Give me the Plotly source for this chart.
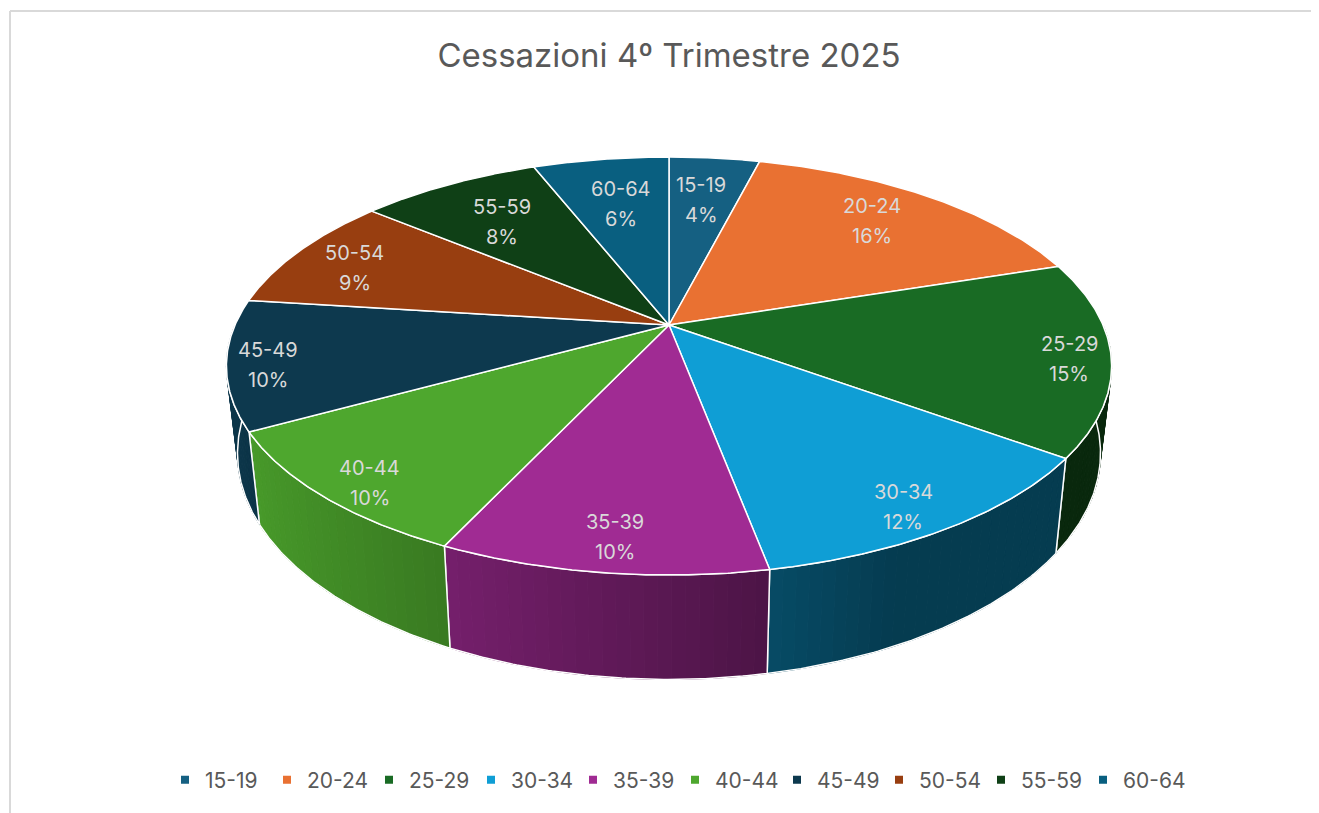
import numpy as np
import plotly.graph_objects as go

# ---------------- data ----------------
categories = ["15-19", "20-24", "25-29", "30-34", "35-39",
              "40-44", "45-49", "50-54", "55-59", "60-64"]
values = [4, 16, 15, 12, 10, 10, 10, 9, 8, 6]
colors = ["#156082", "#E97132", "#196B24", "#0F9ED5", "#A02B93",
          "#4EA72E", "#0D394E", "#983E10", "#0F4016", "#095F80"]
title_text = "Cessazioni 4º Trimestre 2025"

# ---------------- page / geometry ----------------
PAGE_W, PAGE_H = 1319, 813
OFF = 8                               # default body margin of the html page
W, H = PAGE_W - OFF, PAGE_H - OFF
PX = 434.0                            # pixels per unit radius
CX, CY = 669.0 - OFF, 325.0 - OFF     # apex of pie (figure pixels)
K = 0.196                             # perspective strength
BY = 0.4631                           # vertical squash of the top face
TH = 0.1935                           # thickness of the pie
XS = 0.975                            # horizontal shrink of the bottom face

FONT = "Inter, Open Sans, sans-serif"


def top_pt(theta_deg, r=1.0):
    t = np.radians(theta_deg)
    s = 1.0 / (1.0 + K * r * np.cos(t))
    return r * np.sin(t) * s, BY * r * np.cos(t) * s


def bot_pt(theta_deg):
    x, y = top_pt(theta_deg)
    t = np.radians(theta_deg)
    s = 1.0 / (1.0 + K * np.cos(t))
    return XS * x, y - TH * s


def shade(hex_color, f):
    h = hex_color.lstrip("#")
    r, g, b = (int(h[i:i + 2], 16) for i in (0, 2, 4))
    return "rgb(%d,%d,%d)" % (min(255, r * f), min(255, g * f), min(255, b * f))


def wall_factor(theta_deg):
    return float(np.clip(0.557 - 0.414 * np.sin(np.radians(theta_deg)), 0.38, 0.95))


total = float(sum(values))
bounds = np.concatenate([[0.0], np.cumsum(values) / total * 360.0])

fig = go.Figure()

# ---- side walls (front half only) ----
for i, (cat, col) in enumerate(zip(categories, colors)):
    a0, a1 = max(bounds[i], 90.0), min(bounds[i + 1], 270.0)
    if a1 <= a0:
        continue
    n = max(2, int(np.ceil((a1 - a0) / 1.5)))
    edges = np.linspace(a0, a1, n + 1)
    for ea, eb in zip(edges[:-1], edges[1:]):
        ta, tb = top_pt(ea), top_pt(eb)
        ba, bb = bot_pt(ea), bot_pt(eb)
        c = shade(col, wall_factor((ea + eb) / 2))
        fig.add_trace(go.Scatter(
            x=[ta[0], tb[0], bb[0], ba[0], ta[0]],
            y=[ta[1], tb[1], bb[1], ba[1], ta[1]],
            mode="lines", fill="toself", fillcolor=c,
            line=dict(color=c, width=1), hoverinfo="skip", showlegend=False))
    arc = np.linspace(a0, a1, 80)
    tx, ty = top_pt(arc)
    bx, by = bot_pt(arc[::-1])
    fig.add_trace(go.Scatter(
        x=list(tx) + list(bx) + [tx[0]], y=list(ty) + list(by) + [ty[0]],
        mode="lines", line=dict(color="white", width=1.5),
        hoverinfo="skip", showlegend=False))

# ---- top faces ----
for i, (cat, val, col) in enumerate(zip(categories, values, colors)):
    arc = np.linspace(bounds[i], bounds[i + 1], 120)
    ax, ay = top_pt(arc)
    fig.add_trace(go.Scatter(
        x=[0.0] + list(ax) + [0.0], y=[0.0] + list(ay) + [0.0],
        mode="lines", fill="toself", fillcolor=col,
        line=dict(color="white", width=1.5),
        name=cat, text="%s: %d%%" % (cat, val), hoverinfo="text",
        showlegend=False))

# ---- data labels ----
for i, (cat, val) in enumerate(zip(categories, values)):
    mid = (bounds[i] + bounds[i + 1]) / 2
    t = np.radians(mid)
    r = 0.748 + 0.15 * np.sin(t) ** 2 - 0.085 * np.cos(t)
    lx, ly = top_pt(mid, r)
    d = 3 - 10 * np.cos(t) + 18 * max(0.0, -np.sin(t)) * max(0.0, np.cos(t))
    for txt, dy in ((cat, 15 - d), ("%d%%" % val, -15 - d)):
        fig.add_annotation(x=lx, y=ly, text=txt, showarrow=False, yshift=dy,
                           font=dict(family=FONT, size=20, color="#D9D9D9"),
                           xanchor="center", yanchor="middle")

# ---- legend entries ----
for cat, col in zip(categories, colors):
    fig.add_trace(go.Scatter(x=[None], y=[None], mode="markers", name=cat,
                             marker=dict(symbol="square", size=8, color=col),
                             showlegend=True))

fig.update_layout(
    width=W, height=H, autosize=False,
    margin=dict(l=0, r=0, t=0, b=0),
    paper_bgcolor="white", plot_bgcolor="white",
    title=dict(text=title_text, x=0.5 + (669 - OFF - W / 2) / W, xanchor="center",
               y=1 - (55 - OFF) / H, yanchor="middle",
               font=dict(family=FONT, size=33, color="#595959")),
    xaxis=dict(range=[-CX / PX, (W - CX) / PX], visible=False, fixedrange=True),
    yaxis=dict(range=[-(H - CY) / PX, CY / PX], visible=False, fixedrange=True),
    legend=dict(orientation="h", x=(675 - OFF) / W, xanchor="center",
                y=1 - (780 - OFF) / H, yanchor="middle",
                font=dict(family=FONT, size=21, color="#595959"),
                entrywidth=57, entrywidthmode="pixels",
                bgcolor="rgba(0,0,0,0)"),
    shapes=[
        dict(type="line", xref="paper", yref="paper",
             x0=(10 - OFF) / W, x1=(10 - OFF) / W,
             y0=0, y1=1 - (11 - OFF) / H, line=dict(color="#D9D9D9", width=2)),
        dict(type="line", xref="paper", yref="paper",
             x0=(10 - OFF) / W, x1=1,
             y0=1 - (11 - OFF) / H, y1=1 - (11 - OFF) / H,
             line=dict(color="#D9D9D9", width=2)),
    ],
)

fig.write_html("out.html")
